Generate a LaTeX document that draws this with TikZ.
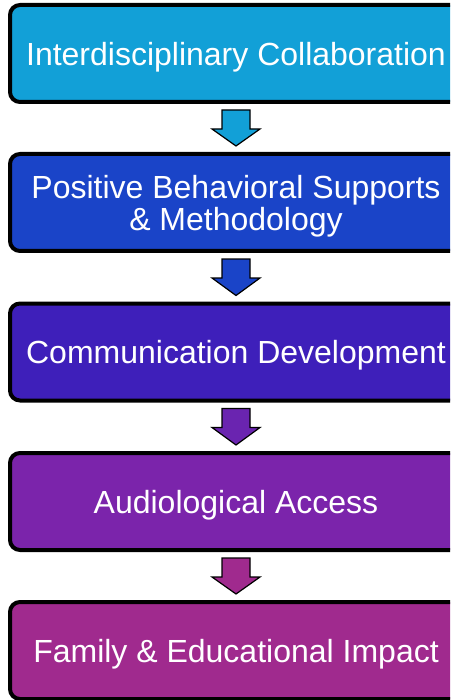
\documentclass[tikz,border=0pt]{standalone}
\usepackage{fontspec}
\setmainfont{Liberation Sans}
\usetikzlibrary{calc}
\definecolor{cA}{HTML}{12A0D7}
\definecolor{cB}{HTML}{1A44C8}
\definecolor{cC}{HTML}{3E1FBA}
\definecolor{cD}{HTML}{7B24AB}
\definecolor{cE}{HTML}{A02A8E}
\definecolor{aC}{HTML}{6A24B0}
\begin{document}
\begin{tikzpicture}[x=1pt,y=-1pt,
  stage/.style={draw=black, line width=4pt, rounded corners=10pt,
    minimum width=452pt, minimum height=97pt, inner sep=0pt, text depth=0pt,
    text=white, align=center, font=\fontsize{32}{34}\selectfont},
  blockarr/.style={draw=black, line width=1.2pt, line join=miter}]
\useasboundingbox (0,0) rectangle (450,700);
\clip (0,0) rectangle (450,700);
\node[stage, fill=cA] (a) at (236,53.5) {Interdisciplinary Collaboration};
\node[stage, fill=cB] (b) at (236,202.5) {Positive Behavioral Supports\\[-2pt]\& Methodology};
\node[stage, fill=cC] (c) at (236,352) {Communication Development};
\node[stage, fill=cD] (d) at (236,501.5) {Audiological Access};
\node[stage, fill=cE] (e) at (236,650.5) {Family \& Educational Impact};
\foreach \p/\q/\col in {a/b/cA, b/c/cB, c/d/aC, d/e/cE}{
  \draw[blockarr, fill=\col]
    ($(\p.south)+(-14,6)$) -- ($(\p.south)+(14,6)$) -- ($(\p.south)+(14,25)$)
    -- ($(\p.south)+(24,25)$) -- ($(\q.north)+(0,-6)$) -- ($(\p.south)+(-24,25)$)
    -- ($(\p.south)+(-14,25)$) -- cycle;
}
\end{tikzpicture}
\end{document}
